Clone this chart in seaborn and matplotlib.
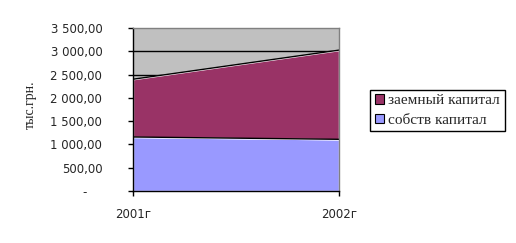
import matplotlib
matplotlib.use("Agg")
import matplotlib.pyplot as plt
import seaborn as sns
import pandas as pd
from matplotlib.patches import Patch
from matplotlib.ticker import FuncFormatter

years = ["2001г", "2002г"]
own_capital = [1160, 1110]
borrowed_capital = [1240, 1915]
series_names = ["собств капитал", "заемный капитал"]
y_ticks = [0, 500, 1000, 1500, 2000, 2500, 3000, 3500]

sns.set_style("white")
plt.rcParams["font.family"] = ["DejaVu Sans"]

df = pd.DataFrame({"x": range(len(years)), "own": own_capital, "borrowed": borrowed_capital})
df["total"] = df["own"] + df["borrowed"]

fig = plt.figure(figsize=(5.16, 2.43), dpi=100)
ax = fig.add_axes([133 / 516, 1 - 191 / 243, (339 - 133) / 516, (191 - 28) / 243])
ax.set_facecolor("#C0C0C0")

for t in y_ticks[1:-1]:
    ax.axhline(t, color="black", lw=1, zorder=0.5)

c_own = "#9999FF"
c_bor = "#993366"
ax.stackplot(df["x"], df["own"], df["borrowed"], colors=[c_own, c_bor], zorder=1)
sns.lineplot(x=df["x"], y=df["own"], ax=ax, color="black", lw=1, zorder=2)
sns.lineplot(x=df["x"], y=df["total"], ax=ax, color="black", lw=1, zorder=2)

ax.set_xlim(0, 1)
ax.set_ylim(0, 3500)
ax.set_xticks(range(len(years)))
ax.set_xticklabels(years)
ax.set_yticks(y_ticks)

def fmt(v, pos):
    if v == 0:
        return "-    "
    s = f"{int(v):,}".replace(",", " ")
    return s + ",00"

ax.yaxis.set_major_formatter(FuncFormatter(fmt))
ax.set_xlabel("")
ax.set_ylabel("")

for s in ["top", "right"]:
    ax.spines[s].set_visible(True)
    ax.spines[s].set_color("#808080")
    ax.spines[s].set_linewidth(1)
for s in ["left", "bottom"]:
    ax.spines[s].set_color("black")
    ax.spines[s].set_linewidth(1)

ax.tick_params(axis="y", direction="out", length=3.6, width=1, color="black",
               labelsize=8.5, pad=18.5, left=True)
ax.tick_params(axis="x", direction="out", length=3.6, width=1, color="black",
               labelsize=8.5, pad=9, bottom=True)

fig.text(30 / 516, 1 - 105 / 243, "тыс.грн.", rotation=90, ha="center", va="center",
         fontsize=10, family="Liberation Serif")

handles = [Patch(facecolor=c_bor, edgecolor="black", lw=0.8, label=series_names[1]),
           Patch(facecolor=c_own, edgecolor="black", lw=0.8, label=series_names[0])]
leg = fig.legend(handles=handles, loc="center left",
                 bbox_to_anchor=(370 / 516, 1 - 110.5 / 243),
                 frameon=True, fancybox=False, edgecolor="black", framealpha=1,
                 prop={"family": "Liberation Serif", "size": 11},
                 handlelength=0.6, handleheight=0.6, handletextpad=0.3,
                 borderpad=0.3, labelspacing=0.4, borderaxespad=0)
leg.get_frame().set_linewidth(1)

fig.savefig("out.png", dpi=100)
